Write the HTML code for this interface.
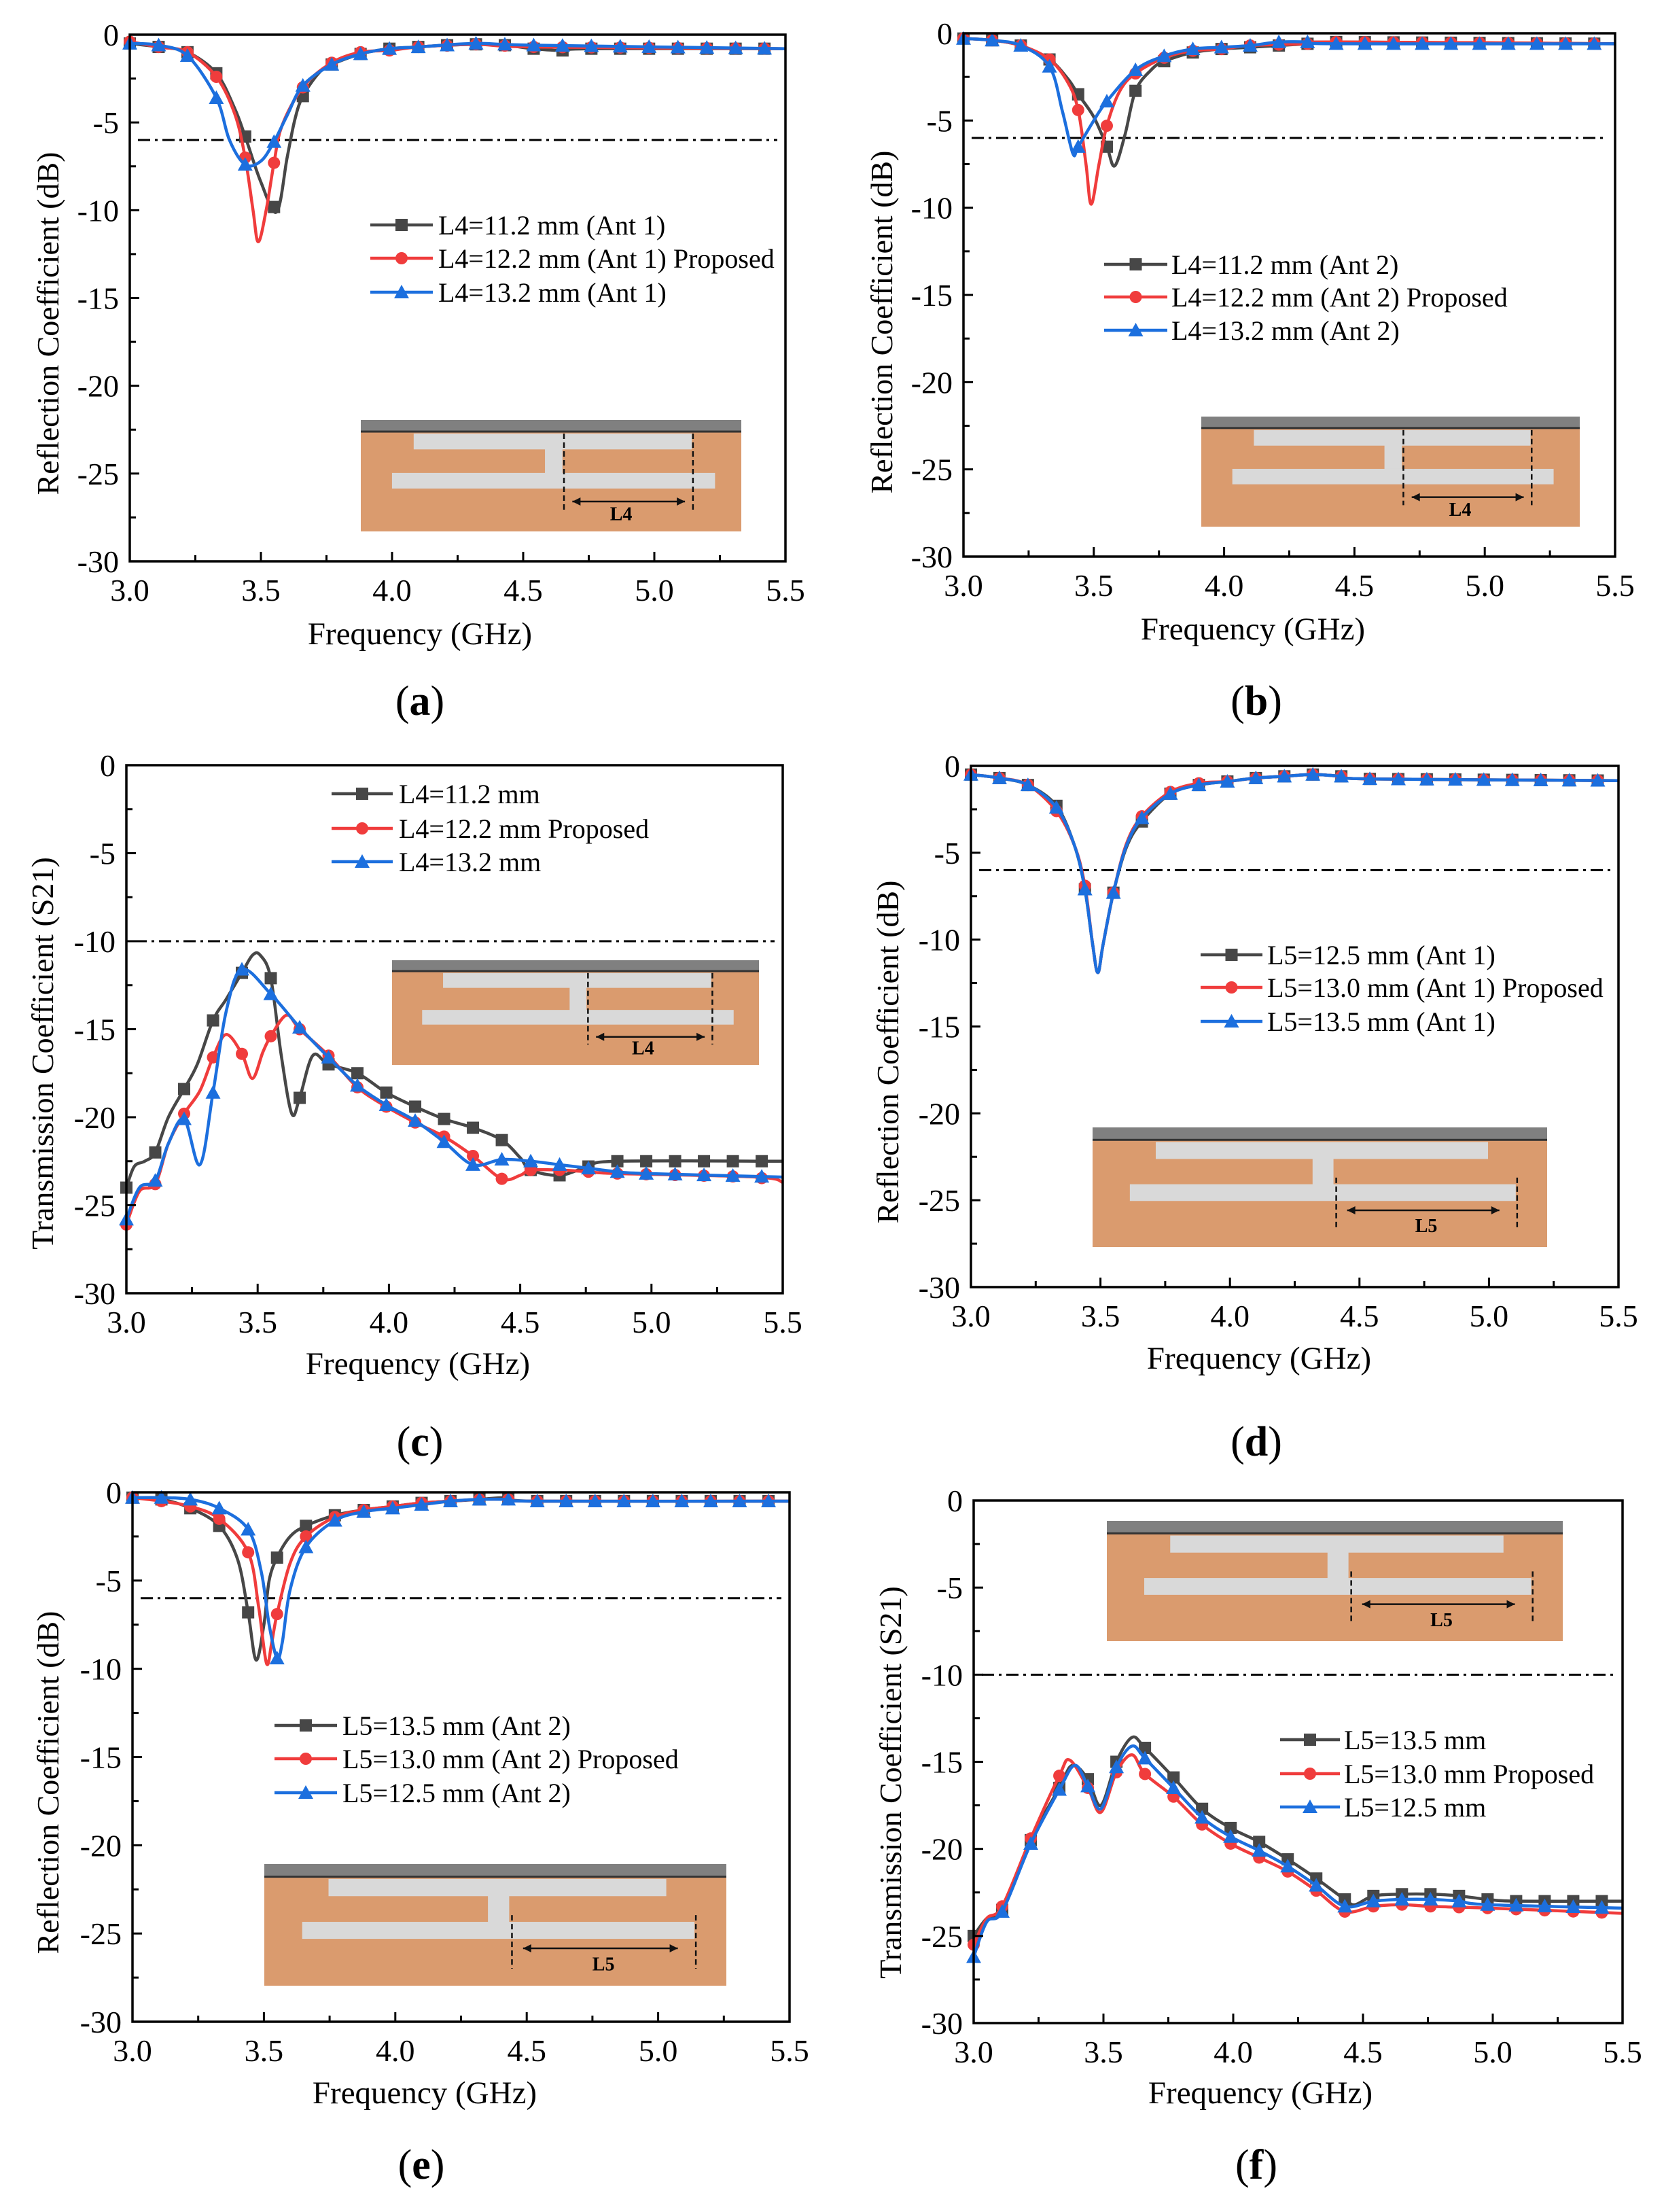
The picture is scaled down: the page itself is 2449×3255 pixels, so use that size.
<!DOCTYPE html>
<html><head><meta charset="utf-8">
<style>
html,body{margin:0;padding:0;background:#fff;}
svg{display:block;}
text{font-family:"Liberation Serif",serif;fill:#000;}
</style></head>
<body>
<svg id="fig" xmlns="http://www.w3.org/2000/svg" width="2449" height="3255" viewBox="0 0 2449 3255"></svg>
<script>
// ---------- DATA ----------
const xTickLabels = ["3.0","3.5","4.0","4.5","5.0","5.5"];
const xTickValues = [3.0,3.5,4.0,4.5,5.0,5.5];
const yTickLabels = ["0","-5","-10","-15","-20","-25","-30"];
const yTickValues = [0,-5,-10,-15,-20,-25,-30];
const markerFreqs = [3.0,3.11,3.22,3.33,3.44,3.55,3.66,3.77,3.88,3.99,4.1,4.21,4.32,4.43,4.54,4.65,4.76,4.87,4.98,5.09,5.2,5.31,5.42];

// (a)
const a_black = [[3.0,-0.5],[3.11,-0.7],[3.22,-1.0],[3.33,-2.2],[3.4,-4.2],[3.44,-5.8],[3.5,-8.4],[3.56,-10.1],[3.6,-7],[3.63,-4.8],[3.66,-3.5],[3.72,-2.2],[3.77,-1.7],[3.88,-1.1],[3.99,-0.8],[4.1,-0.7],[4.21,-0.6],[4.32,-0.55],[4.43,-0.6],[4.54,-0.8],[4.65,-0.9],[4.76,-0.8],[5.5,-0.8]];
const a_red = [[3.0,-0.4],[3.11,-0.7],[3.22,-1.0],[3.33,-2.4],[3.4,-4.5],[3.44,-7.0],[3.47,-10],[3.49,-11.8],[3.52,-10],[3.55,-7.3],[3.58,-5.2],[3.66,-3.0],[3.77,-1.6],[3.88,-1.0],[3.99,-0.9],[4.1,-0.7],[4.32,-0.55],[4.54,-0.7],[5.5,-0.8]];
const a_blue = [[3.0,-0.5],[3.11,-0.6],[3.22,-1.2],[3.33,-3.6],[3.38,-6],[3.44,-7.4],[3.5,-7.2],[3.55,-6.1],[3.6,-4.6],[3.66,-2.9],[3.77,-1.7],[3.88,-1.1],[3.99,-0.8],[4.1,-0.7],[4.32,-0.5],[4.54,-0.6],[5.5,-0.8]];
const a_legend = ["L4=11.2 mm (Ant 1)","L4=12.2 mm (Ant 1) Proposed","L4=13.2 mm (Ant 1)"];
// (b)
const b_black = [[3.0,-0.3],[3.11,-0.4],[3.22,-0.7],[3.33,-1.5],[3.4,-2.6],[3.44,-3.5],[3.5,-4.8],[3.55,-6.5],[3.58,-7.6],[3.62,-5.8],[3.66,-3.3],[3.72,-2.1],[3.77,-1.6],[3.88,-1.1],[3.99,-0.9],[4.1,-0.8],[4.21,-0.7],[4.32,-0.6],[4.43,-0.5],[5.5,-0.6]];
const b_red = [[3.0,-0.3],[3.11,-0.4],[3.22,-0.7],[3.33,-1.5],[3.4,-2.8],[3.44,-4.4],[3.47,-7.5],[3.49,-9.8],[3.52,-7.5],[3.55,-5.3],[3.6,-3.3],[3.66,-2.3],[3.77,-1.4],[3.88,-1.0],[3.99,-0.9],[4.1,-0.7],[4.32,-0.6],[4.43,-0.5],[5.5,-0.6]];
const b_blue = [[3.0,-0.3],[3.11,-0.4],[3.22,-0.7],[3.33,-1.9],[3.38,-4.5],[3.42,-6.9],[3.44,-6.5],[3.5,-5],[3.55,-3.9],[3.66,-2.1],[3.77,-1.3],[3.88,-0.9],[3.99,-0.8],[4.1,-0.7],[4.21,-0.5],[4.32,-0.5],[4.43,-0.6],[5.5,-0.6]];
const b_legend = ["L4=11.2 mm (Ant 2)","L4=12.2 mm (Ant 2) Proposed","L4=13.2 mm (Ant 2)"];
// (c)
const c_black = [[3.0,-24],[3.03,-22.8],[3.07,-22.5],[3.11,-22],[3.16,-20],[3.22,-18.4],[3.27,-17],[3.33,-14.5],[3.38,-13.3],[3.44,-11.8],[3.48,-10.8],[3.51,-10.8],[3.55,-12.1],[3.59,-16.5],[3.63,-19.8],[3.66,-18.9],[3.71,-16.5],[3.77,-17],[3.88,-17.5],[3.99,-18.6],[4.1,-19.4],[4.21,-20.1],[4.32,-20.6],[4.43,-21.3],[4.5,-22.3],[4.54,-23],[4.65,-23.3],[4.76,-22.8],[4.87,-22.5],[5.5,-22.5]];
const c_red = [[3.0,-26.1],[3.05,-24.2],[3.11,-23.8],[3.16,-21.5],[3.22,-19.8],[3.28,-18.5],[3.33,-16.6],[3.38,-15.3],[3.44,-16.4],[3.48,-17.8],[3.52,-16.3],[3.55,-15.4],[3.61,-14.2],[3.66,-15],[3.77,-16.5],[3.88,-18.3],[3.99,-19.4],[4.1,-20.3],[4.21,-21.1],[4.32,-22.2],[4.43,-23.5],[4.5,-23.3],[4.54,-23.0],[4.65,-23.0],[4.76,-23.1],[4.87,-23.2],[5.4,-23.4],[5.5,-23.7]];
const c_blue = [[3.0,-25.8],[3.05,-24],[3.11,-23.6],[3.16,-21.5],[3.22,-20.1],[3.28,-22.7],[3.33,-18.6],[3.38,-14],[3.44,-11.6],[3.55,-13.0],[3.66,-14.9],[3.77,-16.6],[3.88,-18.2],[3.99,-19.3],[4.1,-20.2],[4.21,-21.4],[4.32,-22.7],[4.43,-22.4],[4.54,-22.5],[4.65,-22.7],[4.76,-22.9],[4.87,-23.1],[4.98,-23.2],[5.5,-23.4]];
const c_legend = ["L4=11.2 mm","L4=12.2 mm Proposed","L4=13.2 mm"];
// (d)
const d_black = [[3.0,-0.5],[3.11,-0.7],[3.22,-1.1],[3.33,-2.3],[3.4,-4.6],[3.44,-7.1],[3.47,-10.3],[3.49,-11.9],[3.51,-10.3],[3.55,-7.3],[3.6,-4.7],[3.66,-3.2],[3.77,-1.6],[3.88,-1.1],[3.99,-0.9],[4.1,-0.7],[4.21,-0.6],[4.32,-0.5],[4.43,-0.6],[4.54,-0.75],[5.5,-0.85]];
const d_red = [[3.0,-0.5],[3.11,-0.7],[3.22,-1.1],[3.33,-2.6],[3.4,-4.6],[3.44,-6.9],[3.47,-10.3],[3.49,-11.9],[3.51,-10.3],[3.55,-7.3],[3.6,-4.5],[3.66,-2.9],[3.77,-1.5],[3.88,-1.0],[3.99,-0.9],[4.1,-0.7],[4.21,-0.6],[4.32,-0.5],[4.43,-0.6],[4.54,-0.75],[5.5,-0.85]];
const d_blue = [[3.0,-0.5],[3.11,-0.7],[3.22,-1.1],[3.33,-2.4],[3.4,-4.6],[3.44,-7.1],[3.47,-10.3],[3.49,-11.9],[3.51,-10.3],[3.55,-7.3],[3.6,-4.6],[3.66,-3.0],[3.77,-1.6],[3.88,-1.1],[3.99,-0.9],[4.1,-0.7],[4.21,-0.6],[4.32,-0.5],[4.43,-0.6],[4.54,-0.75],[5.5,-0.85]];
const d_legend = ["L5=12.5 mm (Ant 1)","L5=13.0 mm (Ant 1) Proposed","L5=13.5 mm (Ant 1)"];
// (e)
const e_black = [[3.0,-0.3],[3.11,-0.4],[3.22,-0.9],[3.33,-1.9],[3.4,-3.8],[3.44,-6.8],[3.47,-9.5],[3.5,-7.5],[3.52,-5],[3.55,-3.7],[3.6,-2.5],[3.66,-1.9],[3.77,-1.3],[3.88,-1.0],[3.99,-0.8],[4.1,-0.6],[4.21,-0.5],[4.32,-0.4],[4.43,-0.3],[4.54,-0.5],[5.5,-0.5]];
const e_red = [[3.0,-0.3],[3.11,-0.5],[3.22,-0.8],[3.33,-1.5],[3.44,-3.4],[3.48,-6.5],[3.51,-9.7],[3.53,-8.5],[3.55,-6.9],[3.6,-4],[3.66,-2.5],[3.77,-1.4],[3.88,-1.0],[3.99,-0.8],[4.1,-0.6],[4.21,-0.5],[4.32,-0.4],[4.43,-0.4],[4.54,-0.5],[5.5,-0.5]];
const e_blue = [[3.0,-0.3],[3.11,-0.3],[3.22,-0.4],[3.33,-0.9],[3.44,-2.1],[3.49,-4.5],[3.52,-7.5],[3.55,-9.4],[3.57,-8.5],[3.6,-5.5],[3.66,-3.1],[3.77,-1.6],[3.88,-1.1],[3.99,-0.9],[4.1,-0.7],[4.21,-0.5],[4.32,-0.4],[4.43,-0.4],[4.54,-0.5],[5.5,-0.5]];
const e_legend = ["L5=13.5 mm (Ant 2)","L5=13.0 mm (Ant 2) Proposed","L5=12.5 mm (Ant 2)"];
// (f)
const f_black = [[3.0,-25],[3.05,-24],[3.11,-23.5],[3.22,-19.5],[3.33,-16.5],[3.38,-15.2],[3.44,-16.0],[3.49,-17.5],[3.55,-15],[3.61,-13.6],[3.66,-14.2],[3.77,-15.9],[3.88,-17.7],[3.99,-18.8],[4.1,-19.6],[4.21,-20.6],[4.32,-21.7],[4.43,-22.9],[4.47,-23.2],[4.54,-22.7],[4.65,-22.6],[4.76,-22.6],[4.87,-22.7],[4.98,-22.9],[5.09,-23],[5.5,-23]];
const f_red = [[3.0,-25.5],[3.05,-24],[3.11,-23.3],[3.22,-19.4],[3.33,-15.8],[3.37,-14.9],[3.44,-16.5],[3.49,-17.9],[3.55,-15.6],[3.61,-14.6],[3.66,-15.7],[3.77,-17.0],[3.88,-18.6],[3.99,-19.7],[4.1,-20.5],[4.21,-21.3],[4.32,-22.4],[4.43,-23.6],[4.54,-23.3],[4.65,-23.2],[4.76,-23.3],[4.98,-23.4],[5.5,-23.7]];
const f_blue = [[3.0,-26.2],[3.05,-24.2],[3.11,-23.6],[3.22,-19.7],[3.33,-16.6],[3.39,-15.2],[3.44,-16.4],[3.49,-17.7],[3.55,-15.3],[3.61,-14.1],[3.66,-14.8],[3.77,-16.5],[3.88,-18.2],[3.99,-19.3],[4.1,-20.1],[4.21,-21.0],[4.32,-22.1],[4.43,-23.3],[4.54,-23.0],[4.65,-22.9],[4.76,-22.9],[4.87,-23.0],[4.98,-23.2],[5.5,-23.4]];
const f_legend = ["L5=13.5 mm","L5=13.0 mm Proposed","L5=12.5 mm"];

// ---------- DRAWING ----------
const NS = "http://www.w3.org/2000/svg";
const svg = document.getElementById('fig');
const COLORS = ["#474747","#f03c3c","#1c6fde"];
const SHAPES = ["square","circle","triangle"];

function el(tag, attrs, parent){
  const e = document.createElementNS(NS, tag);
  for (const k in attrs) e.setAttribute(k, attrs[k]);
  (parent||svg).appendChild(e);
  return e;
}
function smooth(pts){
  let d = "M" + pts[0][0].toFixed(1) + "," + pts[0][1].toFixed(1);
  for (let i=0;i<pts.length-1;i++){
    const p0 = pts[i-1]||pts[i], p1=pts[i], p2=pts[i+1], p3=pts[i+2]||pts[i+1];
    const c1x=p1[0]+(p2[0]-p0[0])/6, c1y=p1[1]+(p2[1]-p0[1])/6;
    const c2x=p2[0]-(p3[0]-p1[0])/6, c2y=p2[1]-(p3[1]-p1[1])/6;
    d += " C"+c1x.toFixed(1)+","+c1y.toFixed(1)+" "+c2x.toFixed(1)+","+c2y.toFixed(1)+" "+p2[0].toFixed(1)+","+p2[1].toFixed(1);
  }
  return d;
}
function interp(series, f){
  for (let i=0;i<series.length-1;i++){
    const a=series[i], b=series[i+1];
    if (f>=a[0] && f<=b[0]) return a[1]+(b[1]-a[1])*(f-a[0])/(b[0]-a[0]);
  }
  return series[series.length-1][1];
}
function marker(g, shape, x, y, color){
  let m;
  if (shape==="square") m = el('rect',{x:x-9,y:y-9,width:18,height:18,fill:color},g);
  else if (shape==="circle") m = el('circle',{cx:x,cy:y,r:9,fill:color},g);
  else m = el('polygon',{points:(x)+","+(y-11)+" "+(x-11)+","+(y+9)+" "+(x+11)+","+(y+9),fill:color},g);
  
  
  return m;
}
function inset(g, x, y, w, h, kind){
  const ins = el('g',{},g);
  
  
  el('rect',{x:x,y:y,width:w,height:h,fill:"#da9b6e"},ins);
  el('rect',{x:x,y:y,width:w,height:h*0.104,fill:"#808080"},ins);
  el('rect',{x:x,y:y+h*0.104-1.5,width:w,height:3,fill:"#333"},ins);
  el('rect',{x:x+w*0.139,y:y+h*0.122,width:w*0.731,height:h*0.142,fill:"#d9d9d9"},ins);
  el('rect',{x:x+w*0.484,y:y+h*0.26,width:w*0.046,height:h*0.22,fill:"#d9d9d9"},ins);
  el('rect',{x:x+w*0.082,y:y+h*0.475,width:w*0.849,height:h*0.14,fill:"#d9d9d9"},ins);
  let dx1,dx2,dy1,dy2,ax1,ax2,ay,lx,ly,lab;
  if (kind==="L4"){dx1=0.534;dx2=0.873;dy1=0.122;dy2=0.805;ax1=0.556;ax2=0.852;ay=0.732;lx=0.684;ly=0.9;lab="L4";}
  else {dx1=0.536;dx2=0.934;dy1=0.42;dy2=0.86;ax1=0.56;ax2=0.895;ay=0.693;lx=0.734;ly=0.875;lab="L5";}
  [dx1,dx2].forEach(dx=>{
    el('line',{x1:x+w*dx,y1:y+h*dy1,x2:x+w*dx,y2:y+h*dy2,stroke:"#111","stroke-width":2.5,"stroke-dasharray":"8 5"},ins);
  });
  el('line',{x1:x+w*ax1,y1:y+h*ay,x2:x+w*ax2,y2:y+h*ay,stroke:"#111","stroke-width":2.5},ins);
  const axL=x+w*ax1, axR=x+w*ax2, yy=y+h*ay;
  el('polygon',{points:axL+","+yy+" "+(axL+12)+","+(yy-6)+" "+(axL+12)+","+(yy+6),fill:"#111"},ins);
  el('polygon',{points:axR+","+yy+" "+(axR-12)+","+(yy-6)+" "+(axR-12)+","+(yy+6),fill:"#111"},ins);
  const t = el('text',{x:x+w*lx,y:y+h*ly,"font-size":28,"font-weight":"bold","text-anchor":"middle"},ins);
  t.textContent = lab;
  
  
}

function panel(cfg){
  const {L,R,T,B} = cfg;
  const g = el('g',{});
  
  
  const xs = f => L + (f-3.0)/2.5*(R-L);
  const ys = v => T + (-v)/30*(B-T);

  inset(g, cfg.inset[0], cfg.inset[1], cfg.inset[2], cfg.inset[3], cfg.insetKind);

  const th = el('line',{x1:L+12,y1:ys(cfg.thr),x2:R-12,y2:ys(cfg.thr),stroke:"#000","stroke-width":3,"stroke-dasharray":"18 7 4 7"},g);
  
  

  cfg.series.forEach((s,i)=>{
    const sg = el('g',{},g);
    
    
    const pts = s.map(p=>[xs(p[0]), ys(p[1])]);
    const path = el('path',{d:smooth(pts),fill:"none",stroke:COLORS[i],"stroke-width":4.5,"stroke-linejoin":"round"},sg);
    
    
    markerFreqs.forEach(f=>{ marker(sg, SHAPES[i], xs(f), ys(interp(s,f)), COLORS[i]); });
  });

  const box = el('rect',{x:L,y:T,width:R-L,height:B-T,fill:"none",stroke:"#000","stroke-width":3.5},g);
  
  

  for (let v=0; v>=-30; v-=2.5){
    const major = (v%5===0);
    el('line',{x1:L,y1:ys(v),x2:L+(major?14:9),y2:ys(v),stroke:"#000","stroke-width":3},g);
  }
  yTickValues.forEach((v,i)=>{
    const t = el('text',{x:L-16,y:ys(v)+16,"font-size":46,"text-anchor":"end"},g);
    t.textContent = yTickLabels[i];
    
    
  });
  for (let f=3.0; f<=5.5001; f+=0.25){
    const major = Math.abs((f*2)-Math.round(f*2))<1e-6;
    el('line',{x1:xs(f),y1:B,x2:xs(f),y2:B-(major?14:9),stroke:"#000","stroke-width":3},g);
  }
  xTickValues.forEach((v,i)=>{
    const t = el('text',{x:xs(v),y:B+58,"font-size":46,"text-anchor":"middle"},g);
    t.textContent = xTickLabels[i];
    
    
  });
  const xt = el('text',{x:cfg.xl[0],y:cfg.xl[1],"font-size":47,"text-anchor":"middle"},g);
  xt.textContent = "Frequency (GHz)";
  
  
  const yt = el('text',{x:0,y:0,"font-size":46,"text-anchor":"middle",transform:"translate("+(cfg.yl[0]+16)+","+cfg.yl[1]+") rotate(-90)"},g);
  yt.textContent = cfg.ytitle;
  
  

  cfg.legend.forEach((txt,i)=>{
    const lg = el('g',{},g);
    
    
    const y = cfg.leg.rows[i];
    el('line',{x1:cfg.leg.x1,y1:y,x2:cfg.leg.x2,y2:y,stroke:COLORS[i],"stroke-width":4.5},lg);
    marker(lg, SHAPES[i], (cfg.leg.x1+cfg.leg.x2)/2, y, COLORS[i]);
    const t = el('text',{x:cfg.leg.tx,y:y+14,"font-size":40},lg);
    t.textContent = txt;
  });

  const pl = el('text',{x:cfg.pl[0],y:cfg.pl[1],"font-size":62,"text-anchor":"middle"},g);
  
  
  const t1 = el('tspan',{},pl); t1.textContent="(";
  const t2 = el('tspan',{"font-weight":"bold"},pl); t2.textContent=cfg.letter;
  const t3 = el('tspan',{},pl); t3.textContent=")";
}

const RC = "Reflection Coefficient (dB)", TC = "Transmission Coefficient (S21)";
panel({name:"panel-a",letter:"a",L:191,R:1156,T:51,B:826,thr:-6,series:[a_black,a_red,a_blue],legend:a_legend,
  leg:{x1:545,x2:637,tx:645,rows:[331,380,430]},inset:[531,618,560,164],insetKind:"L4",
  xl:[618,948],yl:[70,476],ytitle:RC,pl:[618,1052]});
panel({name:"panel-b",letter:"b",L:1418,R:2377,T:49,B:819,thr:-6,series:[b_black,b_red,b_blue],legend:b_legend,
  leg:{x1:1625,x2:1718,tx:1724,rows:[389,437,486]},inset:[1768,613,557,162],insetKind:"L4",
  xl:[1844,941],yl:[1297,474],ytitle:RC,pl:[1849,1052]});
panel({name:"panel-c",letter:"c",L:186,R:1152,T:1126,B:1903,thr:-10,series:[c_black,c_red,c_blue],legend:c_legend,
  leg:{x1:488,x2:578,tx:587,rows:[1168,1219,1268]},inset:[577,1413,540,154],insetKind:"L4",
  xl:[615,2022],yl:[62,1550],ytitle:TC,pl:[618,2142]});
panel({name:"panel-d",letter:"d",L:1429,R:2382,T:1127,B:1894,thr:-6,series:[d_black,d_red,d_blue],legend:d_legend,
  leg:{x1:1767,x2:1858,tx:1865,rows:[1405,1453,1503]},inset:[1608,1659,669,176],insetKind:"L5",
  xl:[1853,2014],yl:[1306,1548],ytitle:RC,pl:[1849,2142]});
panel({name:"panel-e",letter:"e",L:195,R:1162,T:2196,B:2975,thr:-6,series:[e_black,e_red,e_blue],legend:e_legend,
  leg:{x1:404,x2:496,tx:504,rows:[2539,2588,2638]},inset:[389,2743,680,179],insetKind:"L5",
  xl:[625,3095],yl:[70,2623],ytitle:RC,pl:[620,3206]});
panel({name:"panel-f",letter:"f",L:1433,R:2388,T:2208,B:2977,thr:-10,series:[f_black,f_red,f_blue],legend:f_legend,
  leg:{x1:1884,x2:1972,tx:1978,rows:[2560,2610,2659]},inset:[1629,2238,671,177],insetKind:"L5",
  xl:[1855,3095],yl:[1310,2623],ytitle:TC,pl:[1849,3206]});
</script>
</body></html>
